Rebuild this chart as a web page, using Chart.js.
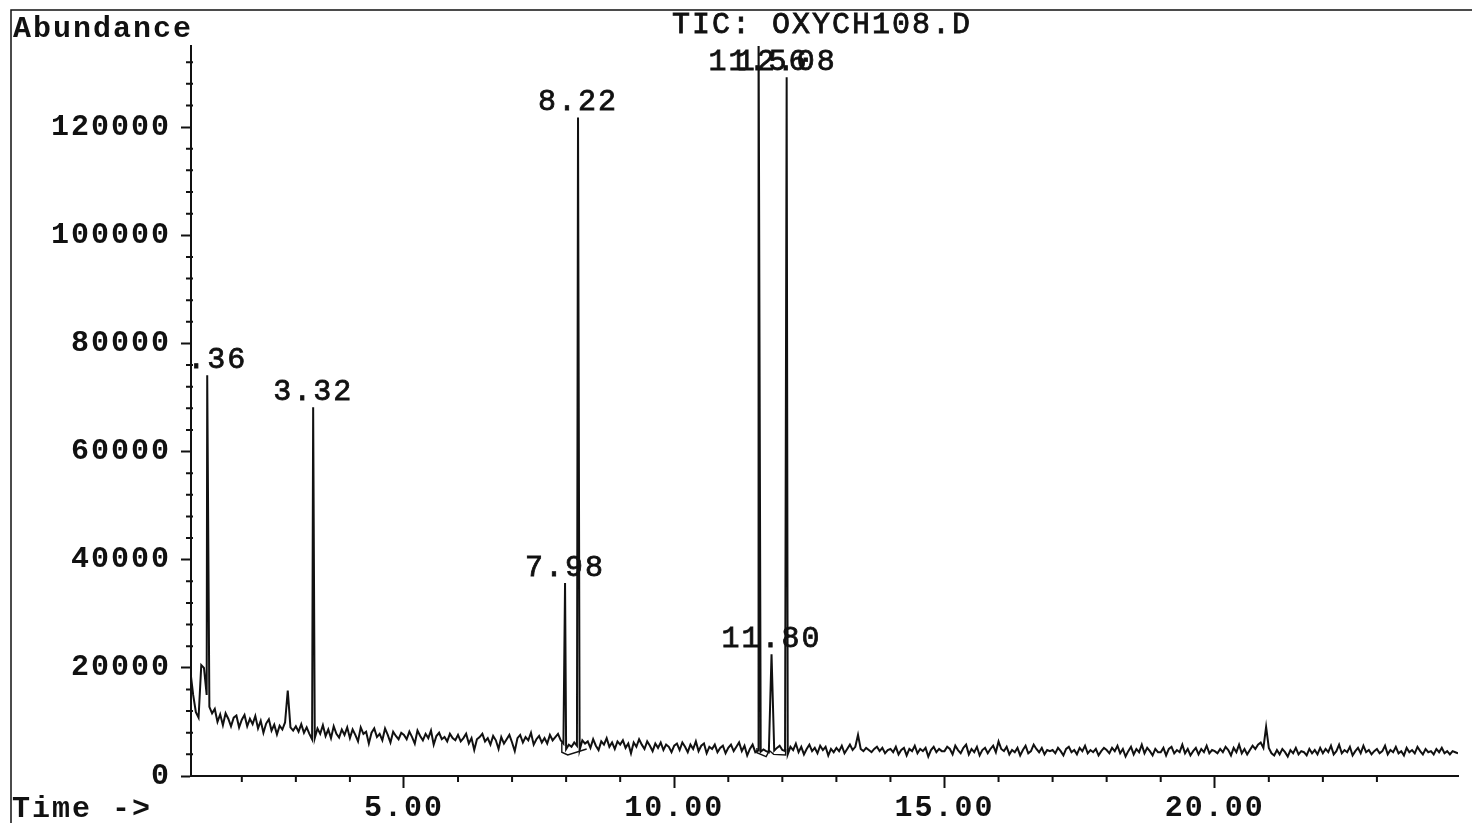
<!DOCTYPE html>
<html>
<head>
<meta charset="utf-8">
<title>TIC: OXYCH108.D</title>
<script src="https://cdn.jsdelivr.net/npm/chart.js@4.4.1/dist/chart.umd.min.js"></script>
<style>
    html, body { margin: 0; padding: 0; background: #fff; }
</style>
</head>
<body>
<canvas id="chart" width="1472" height="823"></canvas>
<script>

// total ion current, one sample every 0.05 min starting at 1.05 min (values in hundreds of counts)
const traceStart = 1.05;
const traceStep = 0.05;
const trace = [
    192, 150, 118, 108, 205, 200, 150, 128, 116, 124, 100, 114, 94, 116, 106, 92, 108, 112, 90,
    104, 113, 92, 106, 96, 111, 88, 102, 80, 97, 105, 84, 95, 77, 93, 86, 99, 158, 90, 84,
    92, 82, 96, 80, 90, 78, 68, 70, 88, 78, 94, 74, 86, 70, 92, 78, 71, 86, 76, 90,
    70, 86, 76, 64, 90, 78, 82, 60, 80, 88, 72, 78, 66, 88, 76, 62, 82, 74, 68, 80,
    76, 68, 82, 72, 60, 84, 74, 66, 78, 70, 84, 58, 74, 80, 68, 72, 64, 78, 70, 66,
    76, 64, 70, 78, 60, 70, 48, 68, 72, 78, 64, 70, 58, 74, 66, 50, 72, 60, 68, 76,
    62, 46, 70, 76, 62, 72, 66, 80, 58, 68, 74, 62, 70, 60, 76, 66, 72, 78, 66, 60,
    50, 58, 54, 62, 56, 48, 66, 60, 64, 52, 68, 56, 48, 64, 58, 70, 54, 62, 50, 64,
    58, 66, 52, 60, 42, 62, 54, 68, 58, 50, 64, 56, 46, 60, 52, 62, 48, 58, 54, 44,
    56, 60, 48, 62, 54, 44, 58, 50, 64, 46, 56, 60, 42, 54, 50, 58, 44, 52, 56, 42,
    52, 58, 46, 54, 62, 46, 56, 38, 50, 58, 44, 47, 45, 49, 46, 44, 43, 47, 52, 56,
    48, 46, 40, 54, 48, 60, 44, 54, 40, 50, 58, 46, 52, 42, 56, 48, 54, 38, 50, 44,
    52, 46, 56, 42, 50, 58, 48, 54, 76, 50, 46, 52, 48, 44, 50, 54, 46, 52, 42, 48,
    50, 44, 54, 40, 48, 52, 38, 50, 46, 56, 42, 50, 46, 52, 36, 48, 54, 44, 50, 46,
    46, 54, 50, 40, 56, 48, 42, 52, 58, 40, 50, 44, 54, 38, 48, 52, 42, 50, 56, 44,
    64, 50, 46, 54, 40, 48, 44, 52, 38, 48, 56, 42, 46, 58, 50, 44, 52, 40, 48, 46,
    48, 42, 52, 46, 38, 50, 54, 44, 48, 40, 52, 46, 56, 42, 48, 44, 50, 38, 46, 52,
    48, 42, 52, 46, 56, 42, 50, 36, 46, 54, 40, 50, 44, 58, 42, 52, 46, 38, 50, 44,
    44, 52, 38, 50, 54, 42, 48, 44, 58, 42, 50, 38, 46, 52, 40, 50, 44, 56, 42, 48,
    46, 42, 50, 44, 54, 48, 38, 52, 44, 58, 42, 50, 40, 48, 56, 50, 58, 62, 52, 91,
    52, 42, 38, 48, 40, 50, 44, 36, 48, 42, 52, 40, 46, 44, 38, 50, 42, 48, 40, 52,
    42, 50, 44, 56, 40, 46, 58, 42, 48, 44, 54, 38, 46, 52, 42, 56, 44, 48, 40, 46,
    50, 42, 46, 56, 40, 48, 44, 54, 42, 46, 38, 52, 44, 48, 42, 54, 46, 40, 50, 44,
    46, 40, 50, 44, 52, 42, 46, 40, 46, 44, 42
];

// integrated peaks: retention time (min) and apex abundance
const peakTimes = [1.36, 3.32, 7.98, 8.22, 11.56, 11.80, 12.08];
const peakHeights = [74100, 68200, 35700, 121800, 141000, 22500, 129200];

// integration baselines drawn under the two peak clusters
const baseATimes = [7.92, 7.92, 8.03, 8.38];
const baseAValues = [6200, 4400, 3900, 5000];
const baseBTimes = [11.53, 11.53, 11.70, 11.76, 11.84, 12.06, 12.06];
const baseBValues = [5200, 4300, 3600, 4700, 4000, 3900, 5000];

// axis ranges and labelled ticks
const xMin = 1.06, xMax = 24.5;
const yMax = 135000;
const xTickValues = [5, 10, 15, 20];
const yTickValues = [0, 20000, 40000, 60000, 80000, 100000, 120000];
const xMinorStep = 1;
const yMinorStep = 4000;

const fontFamily = "'Liberation Mono', 'Courier New', monospace";
const ink = '#111';

const tracePoints = trace.map((v, i) => ({ x: +(traceStart + i * traceStep).toFixed(2), y: v * 100 }));
const peakPoints = peakTimes.map((t, i) => ({ x: t, y: peakHeights[i] }));
const signal = tracePoints
    .filter(p => !peakTimes.some(t => Math.abs(t - p.x) < 0.005))
    .concat(peakPoints)
    .sort((a, b) => a.x - b.x);

const toPoints = (xs, ys) => xs.map((t, i) => ({ x: t, y: ys[i] }));

const data = {
    datasets: [
        {
            label: 'TIC',
            data: signal,
            borderColor: ink,
            borderWidth: 2,
            pointRadius: 0,
            tension: 0
        },
        {
            label: 'baseline A',
            data: toPoints(baseATimes, baseAValues),
            borderColor: ink,
            borderWidth: 1.4,
            pointRadius: 0
        },
        {
            label: 'baseline B',
            data: toPoints(baseBTimes, baseBValues),
            borderColor: ink,
            borderWidth: 1.4,
            pointRadius: 0
        }
    ]
};

// letter spacing for the wide printer-style mono text
const spacing = {
    id: 'spacing',
    beforeDraw: (chart) => {
        chart.ctx.letterSpacing = '2px';
    }
};

// fill plus a thin outline, gives the plain face a bit more weight
function heavyText(ctx, text, x, y) {
    ctx.fillText(text, x, y);
    ctx.strokeText(text, x, y);
}

const frame = {
    id: 'frame',
    beforeDraw: (chart) => {
        const ctx = chart.ctx;
        ctx.save();
        ctx.fillStyle = '#fff';
        ctx.fillRect(0, 0, chart.width, chart.height);
        ctx.strokeStyle = ink;
        ctx.lineWidth = 1.5;
        ctx.beginPath();
        ctx.moveTo(11, chart.height);
        ctx.lineTo(11, 10);
        ctx.lineTo(chart.width, 10);
        ctx.stroke();
        ctx.restore();
    },
    afterDraw: (chart) => {
        const ctx = chart.ctx;
        const area = chart.chartArea;
        const x = chart.scales.x, y = chart.scales.y;
        ctx.save();
        ctx.strokeStyle = ink;
        ctx.lineWidth = 2;
        ctx.beginPath();
        // minor ticks between the labelled ones
        for (let v = yMinorStep; v <= yMax; v += yMinorStep) {
            if (yTickValues.includes(v)) continue;
            const py = y.getPixelForValue(v);
            ctx.moveTo(area.left - 5, py);
            ctx.lineTo(area.left + 2, py);
        }
        for (let t = Math.ceil(xMin); t < xMax - 1; t += xMinorStep) {
            if (xTickValues.includes(t)) continue;
            const px = x.getPixelForValue(t);
            ctx.moveTo(px, area.bottom);
            ctx.lineTo(px, area.bottom + 6);
        }
        ctx.stroke();

        ctx.fillStyle = ink;
        ctx.textBaseline = 'alphabetic';
        ctx.textAlign = 'left';
        ctx.font = 'bold 30px ' + fontFamily;
        ctx.fillText('Abundance', 13, 37);
        ctx.fillText('Time ->', 12, 817);
        ctx.font = '30px ' + fontFamily;
        ctx.lineWidth = 0.8;
        heavyText(ctx, 'TIC: OXYCH108.D', 672, 33);
        ctx.restore();
    }
};

const peakLabels = {
    id: 'peakLabels',
    afterDatasetsDraw: (chart) => {
        const ctx = chart.ctx;
        const area = chart.chartArea;
        const x = chart.scales.x, y = chart.scales.y;
        ctx.save();
        ctx.beginPath();
        ctx.rect(area.left + 2, 0, area.right - area.left, area.bottom);
        ctx.clip();
        ctx.fillStyle = ink;
        ctx.strokeStyle = ink;
        ctx.lineWidth = 0.8;
        ctx.font = '30px ' + fontFamily;
        ctx.textAlign = 'center';
        ctx.textBaseline = 'alphabetic';
        peakTimes.forEach((t, i) => {
            const px = x.getPixelForValue(t);
            const top = y.getPixelForValue(Math.min(peakHeights[i], yMax));
            heavyText(ctx, t.toFixed(2), px, Math.max(top - 7, 70));
        });
        ctx.restore();
    }
};

const config = {
    type: 'line',
    data: data,
    options: {
        responsive: false,
        animation: false,
        devicePixelRatio: 1,
        layout: {
            padding: { left: 0, top: 46, right: 14, bottom: 0 }
        },
        plugins: {
            legend: { display: false },
            tooltip: { enabled: false }
        },
        scales: {
            x: {
                type: 'linear',
                min: xMin,
                max: xMax,
                afterBuildTicks: (scale) => { scale.ticks = xTickValues.map(v => ({ value: v })); },
                afterFit: (scale) => { scale.height = 47; },
                border: { display: true, color: ink, width: 2 },
                grid: { drawOnChartArea: false, drawTicks: true, tickLength: 12, tickWidth: 2, tickColor: ink },
                ticks: {
                    autoSkip: false,
                    maxRotation: 0,
                    padding: 2,
                    color: ink,
                    font: { family: fontFamily, size: 30, weight: 'bold' },
                    callback: (v) => Number(v).toFixed(2)
                }
            },
            y: {
                type: 'linear',
                min: 0,
                max: yMax,
                afterBuildTicks: (scale) => { scale.ticks = yTickValues.map(v => ({ value: v })); },
                afterFit: (scale) => { scale.width = 191; },
                border: { display: true, color: ink, width: 2 },
                grid: { drawOnChartArea: false, drawTicks: true, tickLength: 10, tickWidth: 2, tickColor: ink },
                ticks: {
                    autoSkip: false,
                    padding: 10,
                    color: ink,
                    font: { family: fontFamily, size: 30, weight: 'bold' },
                    callback: (v) => String(v)
                }
            }
        }
    },
    plugins: [frame, spacing, peakLabels]
};

let chart = new Chart(
    document.getElementById('chart'),
    config
);

</script>
</body>
</html>
